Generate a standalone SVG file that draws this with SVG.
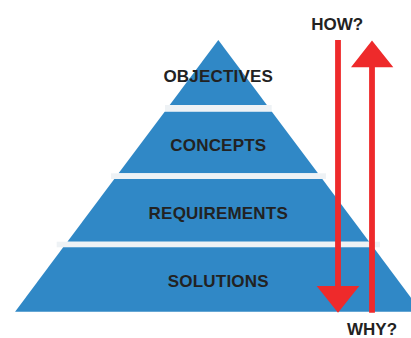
<svg xmlns="http://www.w3.org/2000/svg" width="411" height="338" viewBox="0 0 411 338">
<style>
.tier{fill:#3088c6}
.band{fill:#eef2f5}
.lbl{font-family:"Liberation Sans",Arial,sans-serif;font-weight:bold;font-size:17px;fill:#222;text-anchor:middle;letter-spacing:0.2px}
.q{font-family:"Liberation Sans",Arial,sans-serif;font-weight:bold;font-size:17px;fill:#222;text-anchor:middle}
.arr{fill:#ee2a2b}
</style>
<rect width="411" height="338" fill="#ffffff"/>
<g id="objectives">
<polygon class="tier" points="218.3,40 266.9,105 169.7,105"/>
<text class="lbl" x="218.3" y="82.3">OBJECTIVES</text>
</g>
<rect class="band" x="165" y="105" width="106.7" height="6.7"/>
<g id="concepts">
<polygon class="tier" points="164.7,111.7 271.9,111.7 318,173.3 118.6,173.3"/>
<text class="lbl" x="218.3" y="150.7">CONCEPTS</text>
</g>
<rect class="band" x="111" y="173.3" width="215" height="5.7"/>
<g id="requirements">
<polygon class="tier" points="114.3,179 322.3,179 369.2,241.7 67.4,241.7"/>
<text class="lbl" x="218.3" y="219.3">REQUIREMENTS</text>
</g>
<rect class="band" x="56.7" y="241.7" width="323.3" height="5.6"/>
<g id="solutions">
<polygon class="tier" points="63.2,247.3 373.4,247.3 421.5,311.7 15.1,311.7"/>
<text class="lbl" x="218.3" y="287">SOLUTIONS</text>
</g>
<g id="arrows">
<polygon class="arr" points="335.1,40 340.9,40 340.9,286 359.3,286 338,312.7 316.7,286 335.1,286"/>
<polygon class="arr" points="369.1,312.7 374.9,312.7 374.9,67.3 393.3,67.3 372,40.5 351,67.3 369.1,67.3"/>
</g>
<g id="how">
<text class="q" x="337.2" y="30">HOW?</text>
</g>
<g id="why">
<text class="q" x="372" y="335.3">WHY?</text>
</g>
</svg>
